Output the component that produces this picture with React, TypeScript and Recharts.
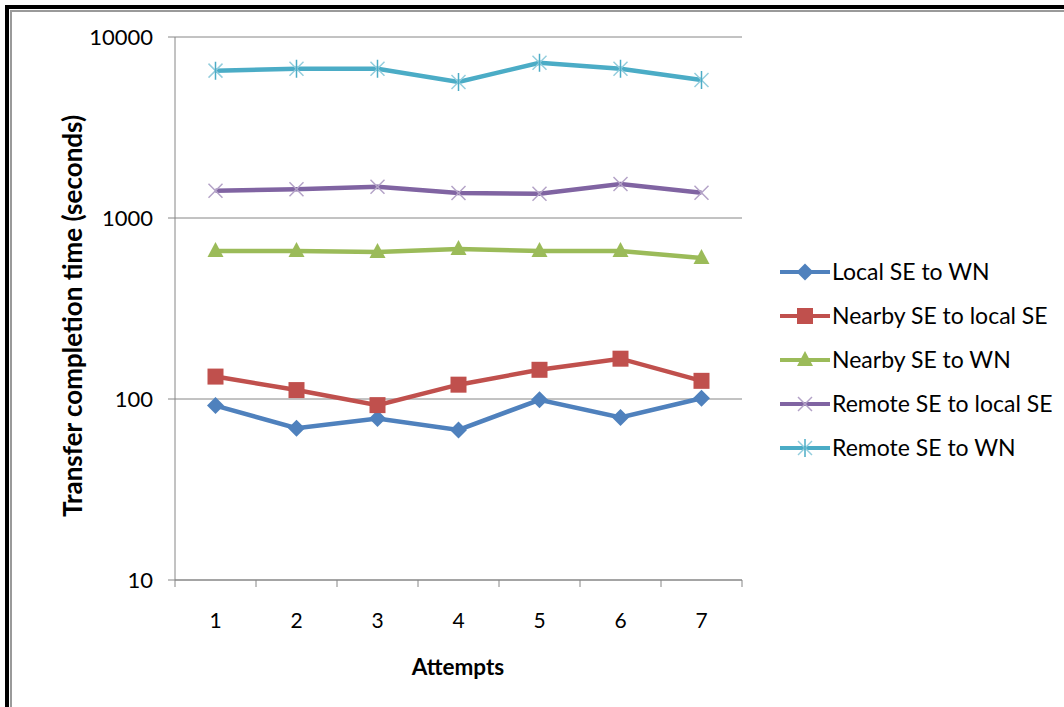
import React from 'react';
import { LineChart, Line, XAxis, YAxis, CartesianGrid } from 'recharts';

const attempts = [1, 2, 3, 4, 5, 6, 7];
const localSEtoWN = [92, 69, 78, 67.5, 99, 79, 101];
const nearbySEtoLocalSE = [133, 112, 92.5, 120, 145, 167, 126];
const nearbySEtoWN = [657, 657, 649, 674, 657, 657, 601];
const remoteSEtoLocalSE = [1416, 1441, 1489, 1374, 1362, 1541, 1380];
const remoteSEtoWN = [6518, 6683, 6683, 5637, 7210, 6683, 5780];

const yTicks = [10, 100, 1000, 10000];
const xTicks = [0.5, 1, 1.5, 2, 2.5, 3, 3.5, 4, 4.5, 5, 5.5, 6, 6.5, 7, 7.5];

const seriesNames = [
  'Local SE to WN',
  'Nearby SE to local SE',
  'Nearby SE to WN',
  'Remote SE to local SE',
  'Remote SE to WN',
];
const seriesKeys = ['local', 'nearbyLocal', 'nearbyWN', 'remoteLocal', 'remoteWN'];
const colors = ['#4F81BD', '#C0504D', '#9BBB59', '#8064A2', '#4BACC6'];
const lightColors = ['#4F81BD', '#C0504D', '#9BBB59', '#B3A2C7', '#93CDDD'];
const shapes = ['diamond', 'square', 'triangle', 'x', 'star'];

const data = attempts.map((a, i) => ({
  attempt: a,
  local: localSEtoWN[i],
  nearbyLocal: nearbySEtoLocalSE[i],
  nearbyWN: nearbySEtoWN[i],
  remoteLocal: remoteSEtoLocalSE[i],
  remoteWN: remoteSEtoWN[i],
}));

const FONT = 'Lato, "Open Sans", sans-serif';

function Marker({ cx, cy, shape, color, light }: any) {
  if (cx == null || cy == null) return null;
  switch (shape) {
    case 'diamond':
      return <polygon points={`${cx},${cy - 8.5} ${cx + 8.5},${cy} ${cx},${cy + 8.5} ${cx - 8.5},${cy}`} fill={color} />;
    case 'square':
      return <rect x={cx - 8} y={cy - 8} width={16} height={16} fill={color} />;
    case 'triangle':
      return <polygon points={`${cx},${cy - 9} ${cx + 8},${cy + 6} ${cx - 8},${cy + 6}`} fill={color} />;
    case 'x':
      return (
        <g stroke={light} strokeWidth={1.5}>
          <line x1={cx - 7} y1={cy - 7} x2={cx + 7} y2={cy + 7} />
          <line x1={cx - 7} y1={cy + 7} x2={cx + 7} y2={cy - 7} />
        </g>
      );
    case 'star':
      return (
        <g stroke={light} strokeWidth={1.5}>
          <line x1={cx - 7} y1={cy - 7} x2={cx + 7} y2={cy + 7} />
          <line x1={cx - 7} y1={cy + 7} x2={cx + 7} y2={cy - 7} />
          <line x1={cx} y1={cy - 9} x2={cx} y2={cy + 9} stroke={colors[4]} />
        </g>
      );
    default:
      return null;
  }
}

const XTick = (props: any) => {
  const { x, payload } = props;
  const v = payload.value;
  if (Number.isInteger(v)) {
    return (
      <text x={x} y={628} textAnchor="middle" fontFamily={FONT} fontSize={21} fill="#000">
        {v}
      </text>
    );
  }
  return <line x1={x} y1={580} x2={x} y2={587} stroke="#868686" strokeWidth={1} />;
};

const YTick = (props: any) => {
  const { y, payload } = props;
  return (
    <text x={153} y={y} dy={8} textAnchor="end" fontFamily={FONT} fontSize={22} fill="#000">
      {payload.value}
    </text>
  );
};

const LegendBox = () => (
  <svg width={290} height={220} style={{ position: 'absolute', left: 780, top: 255 }}>
    {seriesNames.map((n, i) => {
      const cy = 17 + i * 44;
      return (
        <g key={n}>
          <line x1={0} y1={cy} x2={50} y2={cy} stroke={colors[i]} strokeWidth={4} />
          <Marker cx={25} cy={cy} shape={shapes[i]} color={colors[i]} light={lightColors[i]} />
          <text x={52} y={cy} dy={8} fontFamily={FONT} fontSize={23} fill="#000">
            {n}
          </text>
        </g>
      );
    })}
  </svg>
);

export default function App() {
  return (
    <div style={{ position: 'absolute', left: 0, top: 0, width: 1064, height: 707, background: '#fff', overflow: 'hidden' }}>
      <div style={{ position: 'absolute', left: 5, top: 5, width: 1059, height: 4, background: '#000' }} />
      <div style={{ position: 'absolute', left: 5, top: 5, width: 4, height: 702, background: '#000' }} />
      <div style={{ position: 'absolute', left: 10, top: 10, width: 1054, height: 2, background: '#9a9a9a' }} />
      <div style={{ position: 'absolute', left: 10, top: 10, width: 2, height: 697, background: '#9a9a9a' }} />
      <div style={{ position: 'absolute', left: 0, top: 0 }}>
        <LineChart
          width={1064}
          height={707}
          data={data}
          margin={{ top: 37, right: 322, bottom: 67, left: 0 }}
        >
          <CartesianGrid vertical={false} stroke="#868686" strokeWidth={1} />
          <XAxis
            dataKey="attempt"
            type="number"
            domain={[0.5, 7.5]}
            ticks={xTicks}
            interval={0}
            height={60}
            tickLine={false}
            axisLine={{ stroke: '#868686' }}
            tick={<XTick />}
            label={{
              content: () => (
                <text x={458} y={675} textAnchor="middle" fontFamily={FONT} fontWeight="bold" fontSize={22.5} fill="#000">
                  Attempts
                </text>
              ),
            }}
          />
          <YAxis
            scale="log"
            domain={[10, 10000]}
            ticks={yTicks}
            interval={0}
            width={175}
            tickSize={7}
            tickLine={{ stroke: '#868686' }}
            axisLine={{ stroke: '#868686' }}
            tick={<YTick />}
            allowDataOverflow
            label={{
              content: () => (
                <text
                  x={72}
                  y={316}
                  textAnchor="middle"
                  dominantBaseline="central"
                  transform="rotate(-90 72 316)"
                  fontFamily={FONT}
                  fontWeight="bold"
                  fontSize={26}
                  fill="#000"
                >
                  Transfer completion time (seconds)
                </text>
              ),
            }}
          />
          {seriesKeys.map((k, i) => (
            <Line
              key={k}
              dataKey={k}
              name={seriesNames[i]}
              stroke={colors[i]}
              strokeWidth={4.5}
              isAnimationActive={false}
              dot={(p: any) => (
                <Marker key={`${k}-${p.index}`} cx={p.cx} cy={p.cy} shape={shapes[i]} color={colors[i]} light={lightColors[i]} />
              )}
              activeDot={false}
            />
          ))}
        </LineChart>
      </div>
      <LegendBox />
    </div>
  );
}
